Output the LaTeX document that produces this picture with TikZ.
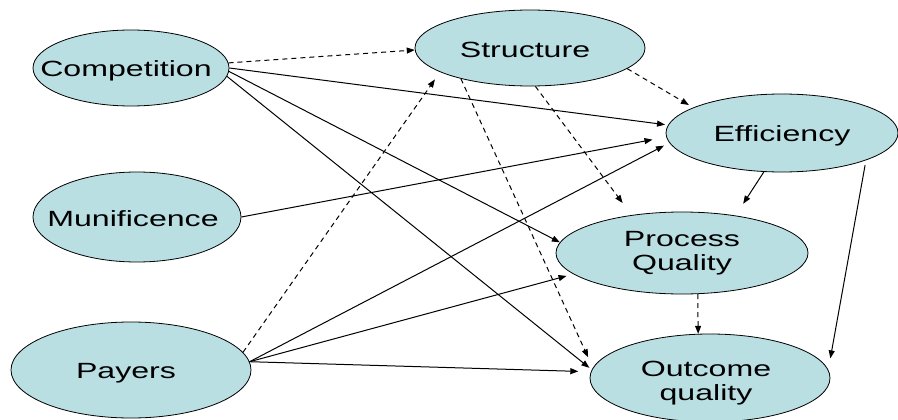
\documentclass[tikz,border=0pt]{standalone}
\usepackage{fontspec}
\setmainfont{Liberation Sans}[FakeStretch=1.46]
\usetikzlibrary{shapes.geometric,arrows.meta}
\definecolor{ovalfill}{HTML}{B9DFE3}
\begin{document}
\begin{tikzpicture}[x=1pt,y=-1pt,
  oval/.style={ellipse,draw=black,line width=0.8pt,fill=ovalfill,inner sep=0pt},
  txt/.style={font=\fontsize{22}{24}\selectfont,align=center,inner sep=0pt},
  conn/.style={line width=1pt,-{Triangle[length=8pt,width=6pt]}},
  dconn/.style={conn,dash pattern=on 5pt off 4pt}]
\useasboundingbox (0,0) rectangle (898,420);
\node[oval,minimum width=196pt,minimum height=76pt,label={[txt,xshift=-5pt,yshift=-3pt]center:Competition}] (comp) at (131,68) {};
\node[oval,minimum width=230pt,minimum height=76pt,label={[txt,xshift=-5pt,yshift=-2pt]center:Structure}] (struct) at (530,48) {};
\node[oval,minimum width=232pt,minimum height=78pt,label={[txt,yshift=-3pt]center:Efficiency}] (eff) at (782,133) {};
\node[oval,minimum width=208pt,minimum height=90pt,label={[txt,xshift=-4pt,yshift=-2pt]center:Munificence}] (muni) at (137,217) {};
\node[oval,minimum width=240pt,minimum height=96pt,label={[txt,xshift=-5pt,yshift=-3pt]center:Payers}] (pay) at (131,370) {};
\node[oval,minimum width=252pt,minimum height=82pt,label={[txt]center:{Process\\Quality}}] (proc) at (682,253) {};
\node[oval,minimum width=240pt,minimum height=88pt,label={[txt,xshift=-4pt,yshift=-5pt]center:{Outcome\\quality}}] (out) at (710,378) {};
% from Competition
\draw[dconn] (comp.3.5) -- (struct.181);
\draw[conn,shorten >=3pt] (comp.0) -- (eff.176.6);
\draw[conn] (comp.-2.3) -- (proc.175);
\draw[conn,shorten >=3pt] (comp.-5.2) -- (out.176.2);
% from Munificence
\draw[conn,shorten >=14pt] (muni.0) -- (eff.182.2);
% from Payers
\draw[dconn,shorten >=9pt] (pay.9.2) -- (struct.195.7);
\draw[conn,shorten >=6pt] (pay.4.7) -- (eff.185.7);
\draw[conn,shorten >=7pt] (pay.4.7) -- (proc.191.1);
\draw[conn,shorten >=12.5pt] (pay.4.7) -- (out.177.8);
% from Structure
\draw[dconn,shorten >=5pt] (struct.-12.6) -- (eff.164.9);
\draw[dconn,shorten >=15pt] (struct.-82.7) -- (proc.143.3);
\draw[dconn,shorten >=11.5pt] (struct.204) -- (out.175.4);
% from Efficiency
\draw[conn,shorten >=14pt] (eff.245.2) -- (proc.35.4);
\draw[conn,shorten <=5pt,shorten >=11.5pt] (eff.-18.5) -- (out.4.1);
% from Process Quality
\draw[dconn] (proc.-69) -- (out.105);
\end{tikzpicture}
\end{document}
